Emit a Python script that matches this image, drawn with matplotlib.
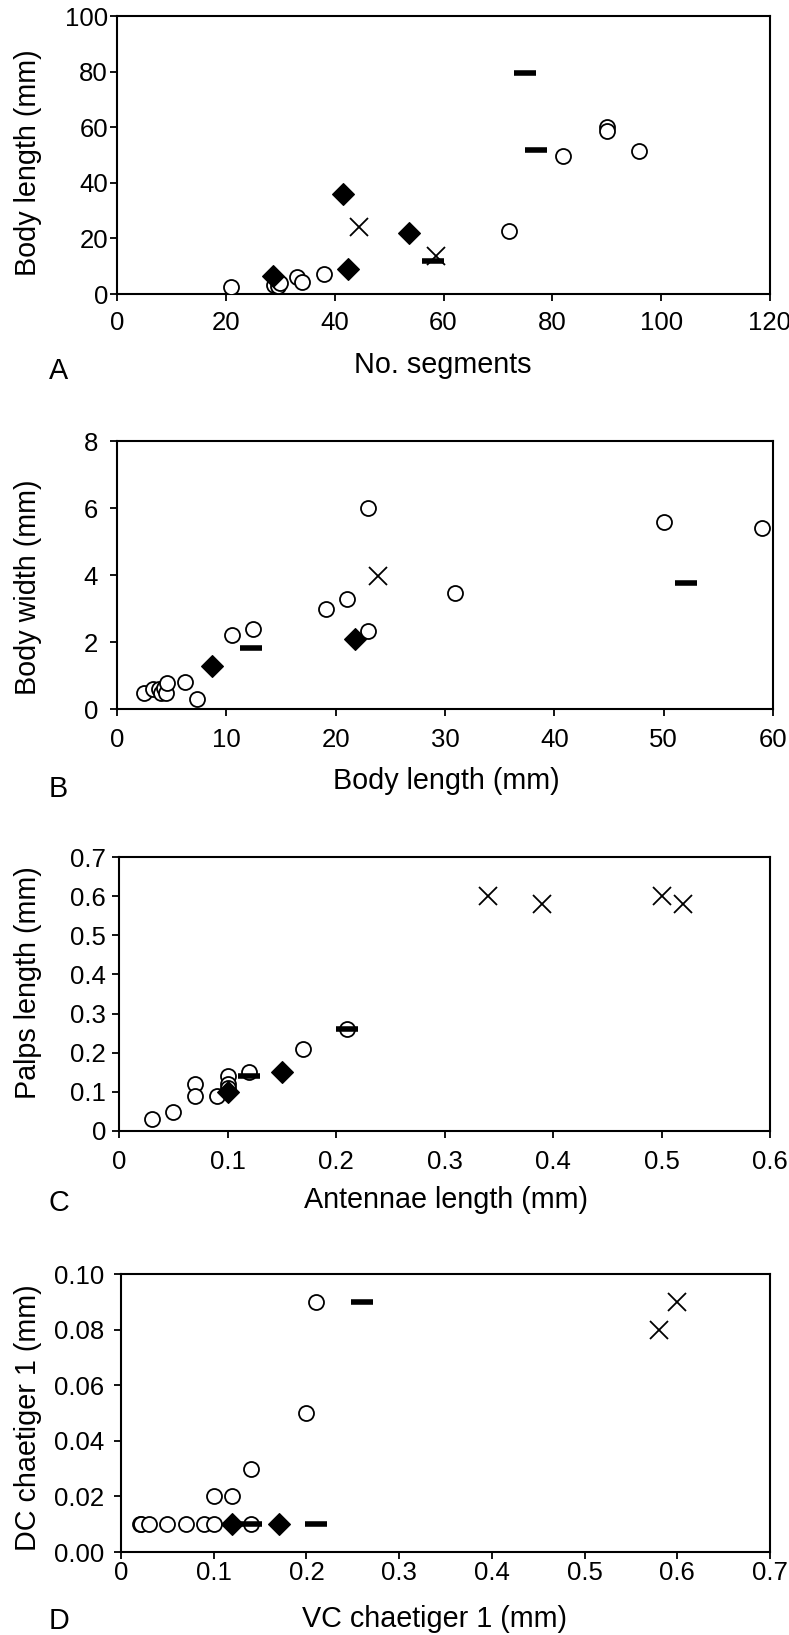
import matplotlib
matplotlib.use("Agg")
import matplotlib.pyplot as plt
import numpy as np

plt.rcParams['font.family'] = ['Liberation Sans', 'DejaVu Sans']

W, H = 789, 1635

# --- panel A: no. segments vs body length ---
a_circ_x = [21, 28.8, 29.5, 30, 33, 34, 38, 72, 82, 90, 90, 96]
a_circ_y = [2.5, 3.4, 3.0, 4.0, 6.0, 4.2, 7.3, 22.8, 49.7, 59.9, 58.7, 51.6]
a_diam_x = [28.6, 41.5, 42.4, 53.7]
a_diam_y = [6.3, 36, 9, 21.9]
a_cross_x = [44.4, 58.7]
a_cross_y = [24, 13.8]
a_dash_x = [58, 75, 77]
a_dash_y = [12, 79.6, 51.9]

# --- panel B: body length vs body width ---
b_circ_x = [2.5, 3.3, 3.8, 4.0, 4.3, 4.5, 4.6, 6.2, 7.35, 10.5, 12.4, 19.1, 21.0, 23.0, 23.0, 30.95, 50.0, 59.0]
b_circ_y = [0.48, 0.6, 0.6, 0.48, 0.63, 0.48, 0.79, 0.82, 0.30, 2.21, 2.38, 2.98, 3.28, 5.99, 2.34, 3.47, 5.59, 5.39]
b_diam_x = [8.7, 21.8]
b_diam_y = [1.27, 2.08]
b_cross_x = [23.9]
b_cross_y = [3.98]
b_dash_x = [12.3, 52.05]
b_dash_y = [1.82, 3.77]

# --- panel C: antennae vs palps ---
c_circ_x = [0.03, 0.05, 0.07, 0.07, 0.09, 0.10, 0.10, 0.10, 0.12, 0.17, 0.21]
c_circ_y = [0.03, 0.048, 0.12, 0.09, 0.09, 0.14, 0.12, 0.11, 0.15, 0.21, 0.26]
c_diam_x = [0.10, 0.15]
c_diam_y = [0.10, 0.15]
c_cross_x = [0.34, 0.39, 0.50, 0.52]
c_cross_y = [0.60, 0.58, 0.60, 0.58]
c_dash_x = [0.12, 0.21]
c_dash_y = [0.14, 0.26]

# --- panel D: VC vs DC chaetiger 1 ---
d_circ_x = [0.02, 0.022, 0.03, 0.05, 0.07, 0.09, 0.10, 0.14, 0.10, 0.12, 0.14, 0.20, 0.21]
d_circ_y = [0.01, 0.01, 0.01, 0.01, 0.01, 0.01, 0.01, 0.01, 0.02, 0.02, 0.03, 0.05, 0.09]
d_diam_x = [0.12, 0.17]
d_diam_y = [0.01, 0.01]
d_cross_x = [0.58, 0.60]
d_cross_y = [0.08, 0.09]
d_dash_x = [0.14, 0.21, 0.26]
d_dash_y = [0.01, 0.01, 0.09]

fig = plt.figure(figsize=(W / 100, H / 100), dpi=100)


def make_ax(l, r, t, b):
    return fig.add_axes([l / W, 1 - b / H, (r - l) / W, (b - t) / H])


def draw(ax, cx, cy, dx, dy, xx, xy, hx, hy):
    ax.plot(cx, cy, 'o', ms=10.8, mfc='white', mec='black', mew=1.3, ls='none', zorder=3)
    ax.plot(dx, dy, 'D', ms=10.8, mfc='black', mec='black', mew=0.8, ls='none', zorder=4)
    ax.plot(xx, xy, 'x', ms=13, mec='black', mew=1.3, ls='none', zorder=5)
    ax.plot(hx, hy, '_', ms=16, mec='black', mew=4, ls='none', zorder=6)


def style(ax, box, xticks, yticks, xlab, ylab, letter, ylab_pos, xlab_pos, letter_y,
          xfmt, yfmt, xpad, ypad):
    l, r, t, b = box
    ax.set_xlim(xticks[0], xticks[-1])
    ax.set_ylim(yticks[0], yticks[-1])
    ax.set_xticks(xticks)
    ax.set_yticks(yticks)
    ax.set_xticklabels([xfmt(v) for v in xticks])
    ax.set_yticklabels([yfmt(v) for v in yticks])
    for s in ax.spines.values():
        s.set_linewidth(1.5)
    ax.tick_params(axis='both', direction='out', length=5, width=1.3, labelsize=18.5)
    ax.tick_params(axis='x', pad=xpad)
    ax.tick_params(axis='y', pad=ypad)
    ax.set_xlabel(xlab, fontsize=20.7, va='baseline', ha='center')
    ax.set_ylabel(ylab, fontsize=20.7, va='center', ha='center')
    ax.xaxis.set_label_coords((xlab_pos[0] - l) / (r - l), 1 - (xlab_pos[1] - t) / (b - t))
    ax.yaxis.set_label_coords((ylab_pos[0] - l) / (r - l), 1 - (ylab_pos[1] - t) / (b - t))
    fig.text(49 / W, 1 - letter_y / H, letter, fontsize=20.7, ha='left', va='baseline')


num = lambda v: '0' if v == 0 else ('%g' % round(v, 2))

boxA = (117, 770, 16, 294)
axA = make_ax(*boxA)
draw(axA, a_circ_x, a_circ_y, a_diam_x, a_diam_y, a_cross_x, a_cross_y, a_dash_x, a_dash_y)
style(axA, boxA, np.arange(0, 121, 20), np.arange(0, 101, 20), 'No. segments', 'Body length (mm)', 'A',
      (28, 163), (443, 373), 379, lambda v: '%d' % v, lambda v: '%d' % v, 7, 1.5)

boxB = (117, 773, 441, 709)
axB = make_ax(*boxB)
draw(axB, b_circ_x, b_circ_y, b_diam_x, b_diam_y, b_cross_x, b_cross_y, b_dash_x, b_dash_y)
style(axB, boxB, np.arange(0, 61, 10), np.arange(0, 9, 2), 'Body length (mm)', 'Body width (mm)', 'B',
      (28, 587), (446, 789), 797, lambda v: '%d' % v, lambda v: '%d' % v, 8.5, 8.5)

boxC = (119, 770, 857, 1131)
axC = make_ax(*boxC)
draw(axC, c_circ_x, c_circ_y, c_diam_x, c_diam_y, c_cross_x, c_cross_y, c_dash_x, c_dash_y)
style(axC, boxC, np.round(np.arange(0, 0.61, 0.1), 1), np.round(np.arange(0, 0.71, 0.1), 1),
      'Antennae length (mm)', 'Palps length (mm)', 'C',
      (28, 983), (446, 1208), 1211, num, num, 8.5, 4.3)

boxD = (121, 770, 1274, 1552)
axD = make_ax(*boxD)
draw(axD, d_circ_x, d_circ_y, d_diam_x, d_diam_y, d_cross_x, d_cross_y, d_dash_x, d_dash_y)
style(axD, boxD, np.round(np.arange(0, 0.71, 0.1), 1), np.round(np.arange(0, 0.101, 0.02), 2),
      'VC chaetiger 1 (mm)', 'DC chaetiger 1 (mm)', 'D',
      (28, 1418), (434, 1627), 1629, num, lambda v: '%.2f' % v, 1.5, 7)

fig.savefig('out.png', dpi=100)
